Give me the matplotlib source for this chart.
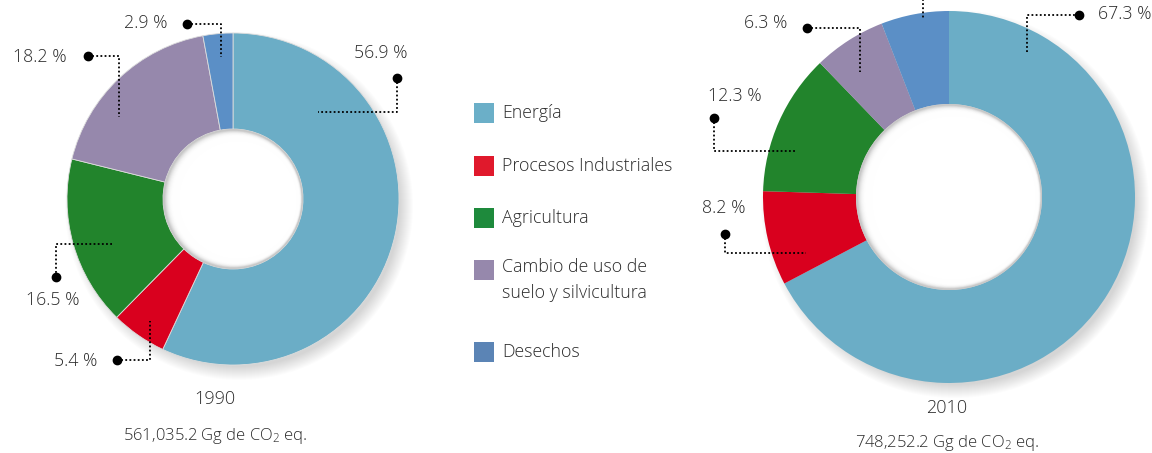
import matplotlib
matplotlib.use("Agg")
import matplotlib.pyplot as plt
from matplotlib.patches import Circle, Wedge, Rectangle
import numpy as np

# ---- data ----
categories = ["Energía", "Procesos Industriales", "Agricultura",
              "Cambio de uso de\nsuelo y silvicultura", "Desechos"]
values_1990 = [56.9, 5.4, 16.5, 18.2, 2.9]
values_2010 = [67.3, 8.2, 12.3, 6.3, 5.9]
labels_1990 = ["56.9 %", "5.4 %", "16.5 %", "18.2 %", "2.9 %"]
labels_2010 = ["67.3 %", "8.2 %", "12.3 %", "6.3 %", "5.9 %"]
year_1990 = "1990"
year_2010 = "2010"
total_1990 = "561,035.2 Gg de CO$_2$ eq."
total_2010 = "748,252.2 Gg de CO$_2$ eq."

colors = ["#6badc6", "#d9001e", "#22842c", "#9688ac", "#5b8fc6"]
legend_colors = ["#6bafc8", "#e0192c", "#1e8a3c", "#9688ac", "#5b84b5"]

W, H = 1152, 453
FONT = ["Open Sans", "DejaVu Sans"]
TXT = "#2b2b2b"
FW = 300
plt.rcParams["mathtext.fontset"] = "custom"
plt.rcParams["mathtext.rm"] = "Open Sans:light"
plt.rcParams["mathtext.it"] = "Open Sans:light"

fig = plt.figure(figsize=(W / 100, H / 100), dpi=100)
ax = fig.add_axes([0, 0, 1, 1])


def Y(y):
    return H - y


def shadow(ax, cx, cy, r_out, r_in):
    # soft outer shadow, offset to lower right
    for i in range(14):
        ax.add_patch(Circle((cx + 6, Y(cy) - 7), r_out + 8 - i, color="black",
                            alpha=0.012, lw=0, zorder=0))
    # hole: white disc with soft grey shading on the left edge
    ax.add_patch(Circle((cx, Y(cy)), r_in, color="#c8c8c8", lw=0, zorder=3))
    n = 14
    for i in range(n):
        f = (i + 1) / n
        ax.add_patch(Circle((cx + 5 * f, Y(cy) - 1 * f), r_in - 1 - 9 * f,
                            color="white", alpha=0.25 + 0.05 * i, lw=0, zorder=3.1 + i * 0.01))
    ax.add_patch(Circle((cx + 5, Y(cy) - 1), r_in - 11, color="white", lw=0, zorder=3.5))


def donut(ax, vals, cx, cy, r_out, r_in, edge):
    shadow(ax, cx, cy, r_out, r_in)
    wedges, _ = ax.pie(vals, colors=colors, startangle=90, counterclock=False,
                       center=(cx, Y(cy)), radius=r_out,
                       wedgeprops=dict(width=r_out - r_in, edgecolor=edge, linewidth=0.6))
    for w in wedges:
        w.set_zorder(2)


def leader(ax, pts, text, tx, ty, ha="left"):
    xs = [p[0] for p in pts]
    ys = [Y(p[1]) for p in pts]
    ax.plot(xs, ys, color="black", lw=1.3, ls=(0, (1, 1.3)), zorder=5,
            solid_capstyle="butt", dash_capstyle="butt")
    ax.plot(xs[0], ys[0], "o", color="black", ms=6, zorder=6)
    if text:
        ax.text(tx, Y(ty), text, ha=ha, va="center", fontsize=12.8, color=TXT,
                family=FONT, weight=FW, zorder=6)


# ---- 1990 donut ----
donut(ax, values_1990, 233, 199, 166, 70, "#dddddd")
leader(ax, [(397, 78), (397, 112), (318, 112)], labels_1990[0], 408, 53, "right")
leader(ax, [(117, 360), (150, 360), (150, 321)], labels_1990[1], 97, 361, "right")
leader(ax, [(56, 277), (56, 244), (112, 244)], labels_1990[2], 80, 300, "right")
leader(ax, [(88, 56), (119, 56), (119, 117)], labels_1990[3], 67, 57, "right")
leader(ax, [(187, 24), (221, 24), (221, 57)], labels_1990[4], 168, 23, "right")
ax.text(215, Y(399), year_1990, ha="center", va="center", fontsize=13,
        color=TXT, family=FONT, weight=FW)
ax.text(215, Y(436), total_1990, ha="center", va="center", fontsize=12,
        color=TXT, family=FONT, weight=FW)

# ---- 2010 donut ----
donut(ax, values_2010, 949, 197, 186, 93, "none")
leader(ax, [(1079, 15), (1027, 15), (1027, 53)], labels_2010[0], 1151, 14, "right")
leader(ax, [(725, 234), (725, 253), (806, 253)], labels_2010[1], 746, 208, "right")
leader(ax, [(714, 118), (714, 151), (795, 151)], labels_2010[2], 762, 96, "right")
leader(ax, [(807, 28), (860, 28), (860, 72)], labels_2010[3], 787, 23, "right")
# Desechos 2010: label lies above the visible area in the reference
leader(ax, [(923, -15), (923, 18)], None, 923, -30, "center")
ax.text(947, Y(408), year_2010, ha="center", va="center", fontsize=13,
        color=TXT, family=FONT, weight=FW)
ax.text(947, Y(443), total_2010, ha="center", va="center", fontsize=12,
        color=TXT, family=FONT, weight=FW)

# ---- legend ----
leg_y = [113, 166, 218, 270, 352]
for cat, col, yy in zip(categories, legend_colors, leg_y):
    ax.add_patch(Rectangle((474, Y(yy) - 10), 20, 20, color=col, lw=0, zorder=5))
    if "\n" in cat:
        ax.text(502, Y(yy) + 12, cat, ha="left", va="top", fontsize=12.8,
                color=TXT, family=FONT, weight=FW, linespacing=1.55)
    else:
        ax.text(502, Y(yy), cat, ha="left", va="center", fontsize=12.8,
                color=TXT, family=FONT, weight=FW)

ax.set_xlim(0, W)
ax.set_ylim(0, H)
ax.set_aspect("equal")
ax.axis("off")
fig.savefig("out.png", dpi=100)
